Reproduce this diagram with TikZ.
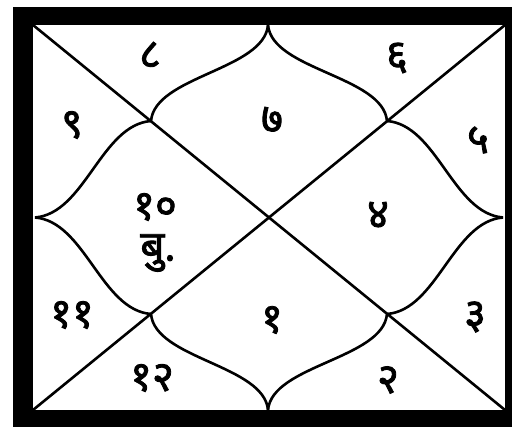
\documentclass[tikz,border=0pt]{standalone}
\usepackage{fontspec}
\newfontfamily\devfont[Script=Devanagari,FakeBold=2]{Noto Sans}
\begin{document}
\begin{tikzpicture}[x=1pt,y=-1pt,
  chartline/.style={line width=2.6pt,black},
  lbl/.style={font=\devfont\fontsize{42}{44}\selectfont,inner sep=0pt}]
\useasboundingbox (0,0) rectangle (512,427);
% frame
\fill[black] (13,7) rectangle (512,427);
\fill[white] (33,25) rectangle (505,410);
% corners and points
\coordinate (TL) at (33,25);
\coordinate (TR) at (505,25);
\coordinate (BL) at (33,410);
\coordinate (BR) at (505,410);
\coordinate (TM) at (268,25);
\coordinate (BM) at (268,410);
\coordinate (LM) at (35,217.5);
\coordinate (RM) at (503,217.5);
\coordinate (Q1) at (151,121);
\coordinate (Q2) at (387,121);
\coordinate (Q3) at (151,314);
\coordinate (Q4) at (387,314);
% diagonals
\draw[chartline] (TL) -- (BR);
\draw[chartline] (TR) -- (BL);
% lotus curves
\draw[chartline] (TM) .. controls +(-4,45) and +(4,-45) .. (Q1);
\draw[chartline] (Q1) .. controls +(-50,4) and +(50,-4) .. (LM);
\draw[chartline] (LM) .. controls +(50,4) and +(-50,-4) .. (Q3);
\draw[chartline] (Q3) .. controls +(4,45) and +(-4,-45) .. (BM);
\draw[chartline] (BM) .. controls +(4,-45) and +(-4,45) .. (Q4);
\draw[chartline] (Q4) .. controls +(50,-4) and +(-50,4) .. (RM);
\draw[chartline] (RM) .. controls +(-50,-4) and +(50,4) .. (Q2);
\draw[chartline] (Q2) .. controls +(-4,-45) and +(4,45) .. (TM);
% labels
\node[lbl] (h8) at (150,55) {८};
\node[lbl] (h6) at (397,58) {६};
\node[lbl] (h7) at (272,120) {७};
\node[lbl] (h9) at (72,125) {९};
\node[lbl] (h5) at (478,140) {५};
\node[lbl] (h10) at (155,207) {१०};
\node[lbl] (bu) at (158,253) {बु.};
\node[lbl] (h4) at (378,215) {४};
\node[lbl] (h11) at (72,315) {११};
\node[lbl] (h1) at (272,320) {१};
\node[lbl] (h3) at (475,317) {३};
\node[lbl] (h12) at (152,378) {१२};
\node[lbl] (h2) at (388,380) {२};
\end{tikzpicture}
\end{document}
